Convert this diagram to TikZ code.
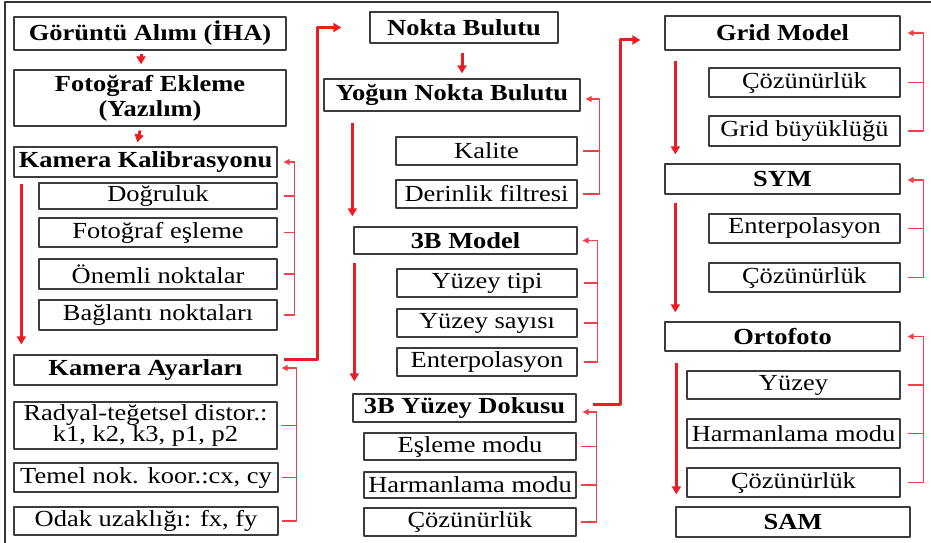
\documentclass[tikz,border=0pt]{standalone}
\usepackage{fontspec}
\setmainfont[FakeStretch=1.15]{Liberation Serif}
\usetikzlibrary{arrows.meta}

\definecolor{flowred}{RGB}{236,28,36}
\definecolor{linkred}{RGB}{240,64,74}
\definecolor{boxgray}{RGB}{60,60,60}

\tikzset{
  box/.style={draw=boxgray, line width=1.3pt, inner sep=1pt, font=\fontsize{23}{25}\selectfont},
  headbox/.style={box, font=\fontsize{23}{25}\selectfont\bfseries},
  flow/.style={->, flowred, line width=3pt},
  link/.style={linkred, line width=1.3pt},
  linkarrow/.style={link, -{Triangle[length=6pt,width=6pt]}}
}

\begin{document}
\begin{tikzpicture}[x=1pt, y=-1pt, line join=round, >={Triangle[length=8pt,width=9pt]}]
\useasboundingbox (0,0) rectangle (931,543);
\draw[line width=2pt, black!80] (5,543) -- (5,2) -- (931,2);

% first column
\node[headbox, minimum width=272, minimum height=33] (goruntu) at (150,33.5) {Görüntü Alımı (İHA)};
\node[headbox, minimum width=272, minimum height=56, align=center] (fotograf) at (150,98) {Fotoğraf Ekleme\\(Yazılım)};
\node[headbox, minimum width=263, minimum height=30] (kalib) at (145.5,162) {Kamera Kalibrasyonu};
\node[box, minimum width=238, minimum height=26] (dogruluk) at (158,196) {Doğruluk};
\node[box, minimum width=238, minimum height=29] (eslem) at (158,232.5) {Fotoğraf eşleme};
\node[box, minimum width=238, minimum height=30] (onemli) at (158,274) {Önemli noktalar};
\node[box, minimum width=238, minimum height=30] (baglanti) at (158,315) {Bağlantı noktaları};
\node[headbox, minimum width=263, minimum height=30] (ayarlar) at (145.5,370) {Kamera Ayarları};
\node[box, minimum width=263, minimum height=47, align=center, font=\fontsize{23}{19}\selectfont] (radyal) at (145.5,425.5) {Radyal-teğetsel distor.:\\k1, k2, k3, p1, p2};
\node[box, minimum width=264, minimum height=29] (temel) at (146,477.5) {Temel nok. koor.:cx, cy};
\node[box, minimum width=264, minimum height=28] (odak) at (146,521) {Odak uzaklığı: fx, fy};

\draw[flow, shorten <=3pt, shorten >=5pt] ([xshift=-9pt]goruntu.south) -- ([xshift=-9pt]fotograf.north);
\draw[flow, shorten <=4pt, shorten >=4pt] ([xshift=-9pt]fotograf.south) -- ([xshift=-9pt]kalib.north);
\draw[flow, shorten <=6pt, shorten >=10pt] ([xshift=8pt]kalib.south west) -- ([xshift=8pt]ayarlar.north west);

\draw[link] ([xshift=6pt]dogruluk.east) -- ++(11,0);
\draw[link] ([xshift=6pt]eslem.east) -- ++(11,0);
\draw[link] ([xshift=6pt]onemli.east) -- ++(11,0);
\draw[linkarrow] ([xshift=6pt]baglanti.east) -- ++(11,0) |- ([xshift=6pt]kalib.east);

\draw[link] ([xshift=3pt]radyal.east) -- ++(15,0);
\draw[link] ([xshift=3pt]temel.east) -- ++(15,0);
\draw[linkarrow] ([xshift=3pt]odak.east) -- ++(15,0) |- ([xshift=4pt,yshift=2pt]ayarlar.east);

% second column
\node[headbox, minimum width=188, minimum height=31] (nokta) at (464,27.5) {Nokta Bulutu};
\node[headbox, minimum width=256, minimum height=32] (yogun) at (452,95) {Yoğun Nokta Bulutu};
\node[box, minimum width=181, minimum height=28] (kalite) at (486.5,151) {Kalite};
\node[box, minimum width=181, minimum height=28] (derinlik) at (486.5,194) {Derinlik filtresi};
\node[headbox, minimum width=223, minimum height=27] (model) at (465.5,240.5) {3B Model};
\node[box, minimum width=180, minimum height=28] (tipi) at (487,283) {Yüzey tipi};
\node[box, minimum width=180, minimum height=28] (sayisi) at (487,323) {Yüzey sayısı};
\node[box, minimum width=180, minimum height=28] (enterp) at (487,362) {Enterpolasyon};
\node[headbox, minimum width=223, minimum height=28] (doku) at (464.5,408) {3B Yüzey Dokusu};
\node[box, minimum width=212, minimum height=27] (eslememodu) at (470,446.5) {Eşleme modu};
\node[box, minimum width=212, minimum height=26] (harman) at (470,485) {Harmanlama modu};
\node[box, minimum width=212, minimum height=28] (cozun) at (470,522) {Çözünürlük};

\draw[flow, shorten <=6pt] ([yshift=11pt]ayarlar.east) -- ++(40,0) |- ([xshift=-28pt]nokta.west);
\draw[flow, shorten <=9pt, shorten >=5pt] ([xshift=-2pt]nokta.south) -- ([xshift=10pt]yogun.north);
\draw[flow, shorten <=11pt, shorten >=10pt] ([xshift=29pt]yogun.south west) -- ([xshift=-1pt]model.north west);
\draw[flow, shorten <=8pt, shorten >=12pt] ([xshift=1pt]model.south west) -- ([xshift=2pt]doku.north west);

\draw[link] ([xshift=5pt]kalite.east) -- ++(17,0);
\draw[linkarrow] ([xshift=5pt]derinlik.east) -- ++(17,0) |- ([xshift=5pt,yshift=-4pt]yogun.east);

\draw[link] ([xshift=6pt]tipi.east) -- ++(14,0);
\draw[link] ([xshift=6pt]sayisi.east) -- ++(14,0);
\draw[linkarrow] ([xshift=6pt]enterp.east) -- ++(14,0) |- ([xshift=5pt]model.east);

\draw[link] ([xshift=4pt]eslememodu.east) -- ++(16,0);
\draw[link] ([xshift=4pt]harman.east) -- ++(16,0);
\draw[linkarrow] ([xshift=4pt]cozun.east) -- ++(16,0) |- ([xshift=6pt,yshift=-4pt]doku.east);

% third column
\node[headbox, minimum width=235, minimum height=34] (grid) at (782.5,33) {Grid Model};
\node[box, minimum width=191, minimum height=29] (gcozun) at (804.5,82.5) {Çözünürlük};
\node[box, minimum width=191, minimum height=30] (gbuyuk) at (804.5,131) {Grid büyüklüğü};
\node[headbox, minimum width=235, minimum height=30] (sym) at (782.5,179) {SYM};
\node[box, minimum width=191, minimum height=29] (senterp) at (804.5,228.5) {Enterpolasyon};
\node[box, minimum width=191, minimum height=29] (scozun) at (804.5,277.5) {Çözünürlük};
\node[headbox, minimum width=235, minimum height=29] (orto) at (782.5,336.5) {Ortofoto};
\node[box, minimum width=213, minimum height=28] (oyuzey) at (793.5,385) {Yüzey};
\node[box, minimum width=213, minimum height=29] (oharman) at (793.5,433.5) {Harmanlama modu};
\node[box, minimum width=213, minimum height=29] (ocozun) at (793.5,482.5) {Çözünürlük};
\node[headbox, minimum width=234, minimum height=30] (sam) at (793,522) {SAM};

\draw[flow, shorten <=16pt] ([yshift=4pt]doku.east) -- ++(44,0) |- ([xshift=-24pt,yshift=-7pt]grid.west);
\draw[flow, shorten <=10pt, shorten >=9pt] ([xshift=11pt]grid.south west) -- ([xshift=11pt]sym.north west);
\draw[flow, shorten <=8pt, shorten >=9pt] ([xshift=11pt]sym.south west) -- ([xshift=11pt]orto.north west);
\draw[flow, shorten <=11pt, shorten >=12pt] ([xshift=12pt]orto.south west) -- ([xshift=1pt]sam.north west);

\draw[link] ([xshift=7pt]gcozun.east) -- ++(16,0);
\draw[linkarrow] ([xshift=7pt]gbuyuk.east) -- ++(16,0) |- ([xshift=7pt]grid.east);

\draw[link] ([xshift=7pt]senterp.east) -- ++(16,0);
\draw[linkarrow] ([xshift=7pt]scozun.east) -- ++(16,0) |- ([xshift=7pt,yshift=-1pt]sym.east);

\draw[link] ([xshift=7pt]oyuzey.east) -- ++(16,0);
\draw[link] ([xshift=7pt]oharman.east) -- ++(16,0);
\draw[linkarrow] ([xshift=7pt]ocozun.east) -- ++(16,0) |- ([xshift=7pt]orto.east);

\end{tikzpicture}
\end{document}
